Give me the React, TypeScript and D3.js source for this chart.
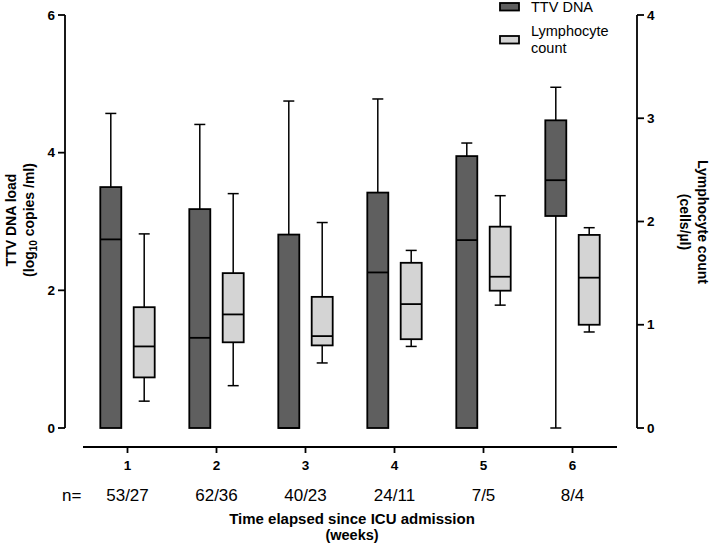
import React from "react";
import * as d3 from "d3";

const categories = ["1", "2", "3", "4", "5", "6"];
const nLabels = ["53/27", "62/36", "40/23", "24/11", "7/5", "8/4"];
// TTV DNA (log10 copies/ml): min, q1, median, q3, max
const ttvMin = [0, 0, 0, 0, 0, 0];
const ttvQ1 = [0, 0, 0, 0, 0, 3.08];
const ttvMed = [2.74, 1.31, 0, 2.26, 2.73, 3.6];
const ttvQ3 = [3.5, 3.18, 2.81, 3.42, 3.95, 4.47];
const ttvMax = [4.57, 4.41, 4.75, 4.78, 4.14, 4.95];
// Lymphocyte count (cells/µl)
const lymMin = [0.26, 0.41, 0.63, 0.79, 1.19, 0.93];
const lymQ1 = [0.49, 0.83, 0.8, 0.86, 1.33, 1.0];
const lymMed = [0.79, 1.1, 0.89, 1.2, 1.465, 1.456];
const lymQ3 = [1.17, 1.5, 1.27, 1.6, 1.95, 1.87];
const lymMax = [1.88, 2.27, 1.99, 1.72, 2.25, 1.94];
const leftTicks = [0, 2, 4, 6];
const rightTicks = [0, 1, 2, 3, 4];

const W = 714;
const H = 543;
const font = "Liberation Sans, Arial, Helvetica, sans-serif";

export default function App() {
  const x = d3.scaleBand<string>().domain(categories).range([83, 617]);
  const yL = d3.scaleLinear().domain([0, 6]).range([428, 15]);
  const yR = d3.scaleLinear().domain([0, 4]).range([428, 15]);
  const bw = 21;
  const off = 16.7;
  const cap = 11;

  const box = (
    key: string,
    cx: number,
    y: d3.ScaleLinear<number, number>,
    mn: number,
    q1: number,
    md: number,
    q3: number,
    mx: number,
    fill: string
  ) => (
    <g key={key}>
      {mx > q3 && (
        <g>
          <line x1={cx} x2={cx} y1={y(q3)} y2={y(mx)} stroke="#000" strokeWidth={1.5} />
          <line x1={cx - cap / 2} x2={cx + cap / 2} y1={y(mx)} y2={y(mx)} stroke="#000" strokeWidth={1.5} />
        </g>
      )}
      {mn < q1 && (
        <g>
          <line x1={cx} x2={cx} y1={y(q1)} y2={y(mn)} stroke="#000" strokeWidth={1.5} />
          <line x1={cx - cap / 2} x2={cx + cap / 2} y1={y(mn)} y2={y(mn)} stroke="#000" strokeWidth={1.5} />
        </g>
      )}
      <rect x={cx - bw / 2} y={y(q3)} width={bw} height={y(q1) - y(q3)} fill={fill} stroke="#000" strokeWidth={1.8} />
      <line x1={cx - bw / 2} x2={cx + bw / 2} y1={y(md)} y2={y(md)} stroke="#000" strokeWidth={1.8} />
    </g>
  );

  return (
    <svg width={W} height={H} style={{ position: "absolute", left: 0, top: 0 }} fontFamily={font}>
      <rect width={W} height={H} fill="#fff" />
      {categories.map((c, i) => {
        const cx = (x(c) as number) + x.bandwidth() / 2;
        return (
          <g key={c}>
            {box("t" + i, cx - off, yL, ttvMin[i], ttvQ1[i], ttvMed[i], ttvQ3[i], ttvMax[i], "#5f5f5f")}
            {box("l" + i, cx + off, yR, lymMin[i], lymQ1[i], lymMed[i], lymQ3[i], lymMax[i], "#d4d4d4")}
          </g>
        );
      })}
      {/* left axis */}
      <line x1={65} x2={65} y1={yL(6)} y2={yL(0)} stroke="#000" strokeWidth={1.8} />
      {leftTicks.map((t) => (
        <g key={"lt" + t}>
          <line x1={58} x2={65} y1={yL(t)} y2={yL(t)} stroke="#000" strokeWidth={1.8} />
          <text x={55} y={yL(t)} dy="0.35em" textAnchor="end" fontSize={13.5} fontWeight="bold">
            {t}
          </text>
        </g>
      ))}
      {/* right axis */}
      <line x1={637} x2={637} y1={yR(4)} y2={yR(0)} stroke="#000" strokeWidth={1.8} />
      {rightTicks.map((t) => (
        <g key={"rt" + t}>
          <line x1={637} x2={644} y1={yR(t)} y2={yR(t)} stroke="#000" strokeWidth={1.8} />
          <text x={647} y={yR(t)} dy="0.35em" textAnchor="start" fontSize={13.5} fontWeight="bold">
            {t}
          </text>
        </g>
      ))}
      {/* x axis */}
      <line x1={83} x2={617} y1={447} y2={447} stroke="#000" strokeWidth={1.8} />
      {categories.map((c, i) => {
        const cx = (x(c) as number) + x.bandwidth() / 2;
        return (
          <g key={"xt" + c}>
            <line x1={cx} x2={cx} y1={447} y2={453} stroke="#000" strokeWidth={1.8} />
            <text x={cx} y={470} textAnchor="middle" fontSize={13.5} fontWeight="bold">
              {c}
            </text>
            <text x={cx} y={501} textAnchor="middle" fontSize={17}>
              {nLabels[i]}
            </text>
          </g>
        );
      })}
      <text x={62} y={501} fontSize={17}>n=</text>
      <text x={352} y={524} textAnchor="middle" fontSize={15} fontWeight="bold">
        Time elapsed since ICU admission
      </text>
      <text x={352} y={540} textAnchor="middle" fontSize={14.5} fontWeight="bold">
        (weeks)
      </text>
      {/* left title */}
      <g transform="translate(16,220) rotate(-90)">
        <text x={0} y={0} textAnchor="middle" fontSize={14} fontWeight="bold">
          TTV DNA load
        </text>
        <text x={0} y={18} textAnchor="middle" fontSize={14} fontWeight="bold">
          (log
          <tspan fontSize={10} dy={3}>10</tspan>
          <tspan dy={-3}> copies /ml)</tspan>
        </text>
      </g>
      {/* right title */}
      <g transform="translate(698,222) rotate(90)">
        <text x={0} y={0} textAnchor="middle" fontSize={14} fontWeight="bold">
          Lymphocyte count
        </text>
        <text x={0} y={18} textAnchor="middle" fontSize={14} fontWeight="bold">
          (cells/µl)
        </text>
      </g>
      {/* legend */}
      <rect x={500} y={3} width={19} height={7.5} fill="#5f5f5f" stroke="#000" strokeWidth={1.8} />
      <text x={531} y={12} fontSize={14.5}>TTV DNA</text>
      <rect x={500} y={36} width={19} height={7.5} fill="#d4d4d4" stroke="#000" strokeWidth={1.8} />
      <text x={531} y={36} fontSize={14.5}>Lymphocyte</text>
      <text x={531} y={53} fontSize={14.5}>count</text>
    </svg>
  );
}
